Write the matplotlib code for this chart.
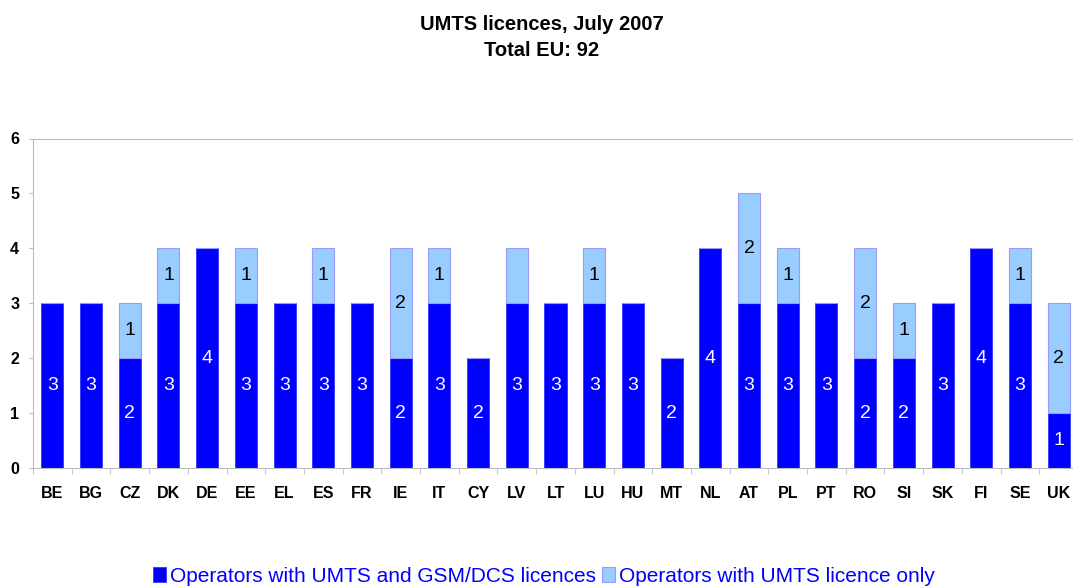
import matplotlib.pyplot as plt
import numpy as np

plt.rcParams['font.family'] = ['Liberation Sans', 'DejaVu Sans']

countries = ['BE', 'BG', 'CZ', 'DK', 'DE', 'EE', 'EL', 'ES', 'FR', 'IE', 'IT', 'CY', 'LV', 'LT',
             'LU', 'HU', 'MT', 'NL', 'AT', 'PL', 'PT', 'RO', 'SI', 'SK', 'FI', 'SE', 'UK']
umts_gsm = [3, 3, 2, 3, 4, 3, 3, 3, 3, 2, 3, 2, 3, 3, 3, 3, 2, 4, 3, 3, 3, 2, 2, 3, 4, 3, 1]
umts_only = [0, 0, 1, 1, 0, 1, 0, 1, 0, 2, 1, 0, 1, 0, 1, 0, 0, 0, 2, 1, 0, 2, 1, 0, 0, 1, 2]
# LV has a light segment but no label on it in the original
hide_light_label = ['LV']

DARK = '#0000FF'
LIGHT = '#99CCFF'

fig = plt.figure(figsize=(10.73, 5.88), dpi=100)
ax = fig.add_axes([33 / 1073, 1 - 468 / 588, 1045 / 1073, (468 - 138.5) / 588])

x = np.arange(len(countries))
w = 0.57
ax.bar(x, umts_gsm, w, color=DARK, edgecolor='#3333FF', linewidth=0.6,
       label='Operators with UMTS and GSM/DCS licences')
ax.bar(x, umts_only, w, bottom=umts_gsm, color=LIGHT, edgecolor='#9999FF', linewidth=0.8,
       label='Operators with UMTS licence only')

for i, c in enumerate(countries):
    ax.text(i, umts_gsm[i] / 2, str(umts_gsm[i]), ha='center', va='center',
            color='white', fontsize=14)
    if umts_only[i] > 0 and c not in hide_light_label:
        ax.text(i, umts_gsm[i] + umts_only[i] / 2, str(umts_only[i]), ha='center',
                va='center', color='black', fontsize=14)

ax.set_xlim(-0.5, len(countries) - 0.5)
ax.set_ylim(0, 6)
ax.set_yticks(range(7))
ax.set_xticks(x)
ax.set_xticklabels(countries, fontweight='bold', fontsize=11.5)
ax.set_xticks(np.arange(-0.5, len(countries), 1), minor=True)
ax.tick_params(axis='x', which='major', length=0, pad=13)
ax.tick_params(axis='x', which='minor', length=4, color='#BBBBBB', direction='out')
ax.tick_params(axis='y', length=3, color='#BBBBBB', labelsize=11.5, pad=7)
for lbl in ax.get_yticklabels():
    lbl.set_fontweight('bold')

for s in ['left', 'bottom', 'top']:
    ax.spines[s].set_color('#BBBBBB')
ax.spines['right'].set_visible(False)

fig.text(0.505, 0.975, 'UMTS licences, July 2007\nTotal EU: 92', ha='center', va='top',
         fontsize=14.5, fontweight='bold', linespacing=1.47)

leg = fig.legend(loc='center', bbox_to_anchor=(0.507, 0.02), ncol=2, frameon=False,
                 fontsize=15, handlelength=0.6, handleheight=0.75, handletextpad=0.2,
                 columnspacing=0.3, borderaxespad=0)
for t in leg.get_texts():
    t.set_color(DARK)

fig.savefig('out.png', dpi=100)
